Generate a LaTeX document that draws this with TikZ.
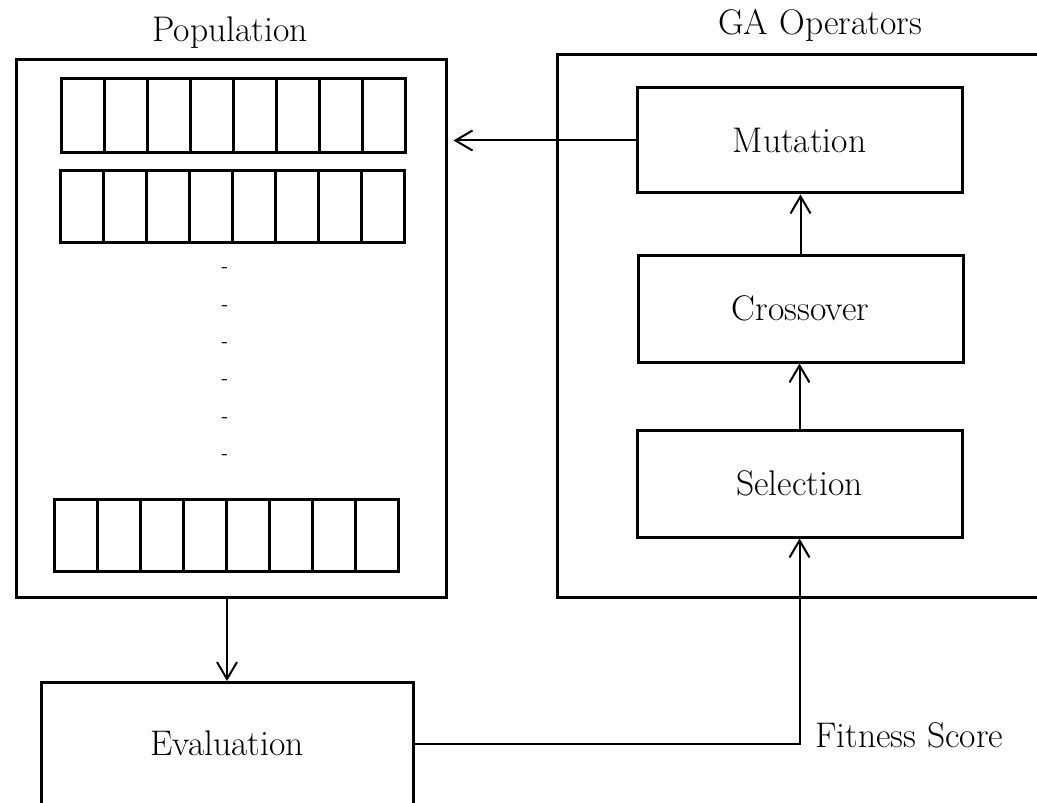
\documentclass[tikz,border=0pt]{standalone}
\usepackage{fontspec}
\usetikzlibrary{arrows.meta}
\begin{document}
\begin{tikzpicture}[x=0.5pt,y=-0.5pt,
  box/.style={draw,line width=1.5pt,inner sep=0pt,font=\fontsize{17.8}{21}\selectfont},
  cell/.style={draw,line width=1.5pt,inner sep=0pt,minimum width=21.5pt},
  title/.style={inner sep=0pt,anchor=base,font=\fontsize{17.8}{21}\selectfont},
  dot/.style={inner sep=0pt,font=\fontsize{10}{12}\selectfont},
  arr/.style={line width=1pt,-{Straight Barb[length=8.5pt,width=10pt]}},
  conn/.style={line width=1pt}]
\useasboundingbox (0,0) rectangle (1037,802);
\clip (0,0) rectangle (1037,802);
\fill[white] (0,0) rectangle (1037,802);
% titles
\node[title] (poptitle) at (230,42) {Population};
\node[title] (gatitle) at (820,35) {GA Operators};
% containers
\node[box,minimum width=215pt,minimum height=268.5pt] (pop) at (231,328.5) {};
\node[box,minimum width=271.5pt,minimum height=271pt] (ga) at (828.5,326) {};
% operators
\node[box,minimum width=162.5pt,minimum height=52.5pt] (mut) at (799.5,140.5) {Mutation};
\node[box,minimum width=162.5pt,minimum height=53.5pt] (cro) at (800.5,308.5) {Crossover};
\node[box,minimum width=162.5pt,minimum height=53.5pt] (sel) at (799.5,483.5) {Selection};
% evaluation
\node[box,minimum width=186pt,minimum height=61pt] (eval) at (227,743.5) {Evaluation};
% chromosomes
\foreach \i in {1,...,8}{
  \node[cell,minimum height=37pt] (ra\i) at ({61+43*(\i-0.5)},116) {};
  \node[cell,minimum height=35.5pt] (rb\i) at ({60+43*(\i-0.5)},206.5) {};
  \node[cell,minimum height=36pt] (rc\i) at ({55+42.9*(\i-0.5)},535) {};
}
% dashes
\foreach \y [count=\k] in {270,308,345,382,420,457}{
  \node[dot] (d\k) at (225,\y) {-};
}
% connectors
\draw[arr,shorten >=3pt] (mut.west) -- (mut.west -| pop.east);
\draw[arr] (cro.north) -- (cro.north |- mut.south);
\draw[arr] (sel.north) -- (sel.north |- cro.south);
\draw[arr] (eval.north |- pop.south) -- (eval.north);
\draw[arr] (eval.east) -| (sel.south);
\node[title,anchor=base west] (fit) at (815,747) {Fitness Score};
\end{tikzpicture}
\end{document}
